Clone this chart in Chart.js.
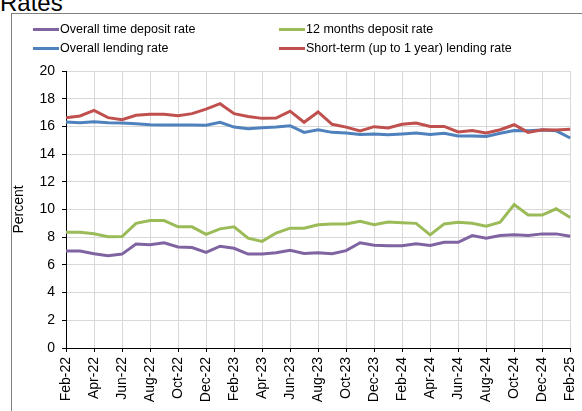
<!DOCTYPE html>
<html>
<head>
<meta charset="utf-8">
<script src="https://cdn.jsdelivr.net/npm/chart.js@4"></script>
<style>
  html, body { margin: 0; padding: 0; width: 582px; height: 411px; overflow: hidden; background: #fff; }
  body { position: relative; font-family: "Liberation Sans", Arial, sans-serif; }
  #title { position: absolute; left: 0; top: -9px; font-size: 24px; color: #000; line-height: 24px; }
  #frame { position: absolute; left: 11px; top: 13px; width: 600px; height: 420px; border: 1px solid #808080; box-sizing: border-box; }
  #chartCanvas { position: absolute; left: 0; top: 0; }
  .legend-item { position: absolute; display: flex; align-items: center; font-size: 12.5px; color: #000; white-space: nowrap; }
  .legend-item .swatch { width: 26px; height: 3px; margin-right: 1px; }
</style>
</head>
<body>
<div id="title">Rates</div>
<div id="frame"></div>
<canvas id="chartCanvas" width="592" height="411"></canvas>
<div id="legend"></div>
<script>
/*--------------------------------------------------------------------
Data (monthly, Feb-22 to Feb-25)
--------------------------------------------------------------------*/
const months = [
    "Feb-22", "Mar-22", "Apr-22", "May-22", "Jun-22", "Jul-22", "Aug-22", "Sep-22", "Oct-22", "Nov-22", "Dec-22", "Jan-23",
    "Feb-23", "Mar-23", "Apr-23", "May-23", "Jun-23", "Jul-23", "Aug-23", "Sep-23", "Oct-23", "Nov-23", "Dec-23", "Jan-24",
    "Feb-24", "Mar-24", "Apr-24", "May-24", "Jun-24", "Jul-24", "Aug-24", "Sep-24", "Oct-24", "Nov-24", "Dec-24", "Jan-25",
    "Feb-25"
];

const timeDepositRate = [
    7.0, 7.0, 6.8, 6.67, 6.78, 7.5, 7.45, 7.6, 7.3, 7.25, 6.9, 7.35,
    7.2, 6.78, 6.78, 6.87, 7.05, 6.83, 6.87, 6.8, 7.03, 7.6, 7.42, 7.38,
    7.38, 7.52, 7.4, 7.63, 7.63, 8.12, 7.93, 8.12, 8.17, 8.12, 8.24, 8.24,
    8.07
];

const twelveMonthDepositRate = [
    8.36, 8.36, 8.25, 8.03, 8.05, 9.0, 9.2, 9.2, 8.75, 8.75, 8.2, 8.6,
    8.75, 7.93, 7.7, 8.3, 8.65, 8.65, 8.9, 8.95, 8.95, 9.15, 8.9, 9.1,
    9.05, 9.0, 8.17, 8.96, 9.08, 9.0, 8.8, 9.08, 10.36, 9.6, 9.6, 10.05,
    9.42
];

const lendingRate = [
    16.32, 16.27, 16.34, 16.27, 16.24, 16.2, 16.12, 16.1, 16.1, 16.1, 16.08, 16.3,
    15.95, 15.83, 15.9, 15.95, 16.05, 15.57, 15.76, 15.57, 15.52, 15.42, 15.45, 15.4,
    15.45, 15.52, 15.42, 15.5, 15.3, 15.3, 15.28, 15.5, 15.7, 15.68, 15.74, 15.68,
    15.16
];

const shortTermLendingRate = [
    16.63, 16.75, 17.15, 16.63, 16.48, 16.8, 16.87, 16.87, 16.77, 16.92, 17.25, 17.64,
    16.92, 16.72, 16.58, 16.6, 17.1, 16.3, 17.04, 16.15, 15.95, 15.67, 15.98, 15.88,
    16.15, 16.24, 16.0, 16.0, 15.6, 15.7, 15.52, 15.76, 16.12, 15.57, 15.76, 15.74,
    15.8
];

const seriesNames = [
    "Overall time deposit rate",
    "12 months deposit rate",
    "Overall lending rate",
    "Short-term (up to 1 year) lending rate"
];
const seriesColors = ["#8064A2", "#9BBB59", "#4F81BD", "#C0504D"];

/*--------------------------------------------------------------------
Legend (two columns, HTML)
--------------------------------------------------------------------*/
const legendBox = document.getElementById("legend");
const legendSpots = [[33, 22], [279, 22], [33, 41], [279, 41]];
seriesNames.forEach((name, i) => {
    const item = document.createElement("div");
    item.className = "legend-item";
    item.style.left = legendSpots[i][0] + "px";
    item.style.top = legendSpots[i][1] + "px";
    const sw = document.createElement("span");
    sw.className = "swatch";
    sw.style.background = seriesColors[i];
    const txt = document.createElement("span");
    txt.textContent = name;
    item.appendChild(sw);
    item.appendChild(txt);
    legendBox.appendChild(item);
});

/*--------------------------------------------------------------------
Chart
--------------------------------------------------------------------*/
const seriesData = [timeDepositRate, twelveMonthDepositRate, lendingRate, shortTermLendingRate];
const ctx = document.getElementById("chartCanvas").getContext("2d");
const tickFont = {family: "'Liberation Sans', Arial", size: 14};

new Chart(ctx, {
    type: "line",
    data: {
        labels: months,
        datasets: seriesData.map((d, i) => ({
            label: seriesNames[i],
            data: d,
            borderColor: seriesColors[i],
            backgroundColor: seriesColors[i],
            borderWidth: 3,
            pointRadius: 0,
            tension: 0,
            order: 3 - i
        }))
    },
    options: {
        responsive: false,
        animation: false,
        devicePixelRatio: 1,
        layout: {padding: {left: 0, top: 71, right: 14, bottom: 0}},
        plugins: {legend: {display: false}, tooltip: {enabled: false}},
        scales: {
            x: {
                offset: false,
                grid: {color: "#d9d9d9", tickColor: "#000", tickLength: 4, lineWidth: 1},
                border: {color: "#000", width: 1},
                ticks: {
                    autoSkip: false,
                    maxRotation: 90,
                    minRotation: 90,
                    padding: 5,
                    color: "#000",
                    font: tickFont,
                    callback: function (val, idx) {
                        return idx % 2 === 0 ? months[idx] : null;
                    }
                },
                afterFit: scale => { scale.height = 63; }
            },
            y: {
                min: 0,
                max: 20,
                grid: {color: "#d9d9d9", tickColor: "#000", tickLength: 4, lineWidth: 1},
                border: {color: "#000", width: 1},
                ticks: {
                    stepSize: 2,
                    padding: 7,
                    color: "#000",
                    font: tickFont
                },
                title: {
                    display: true,
                    text: "Percent",
                    color: "#000",
                    padding: {top: 11, bottom: 0},
                    font: tickFont
                },
                afterFit: scale => { scale.width = 66; }
            }
        }
    }
});
</script>
</body>
</html>
